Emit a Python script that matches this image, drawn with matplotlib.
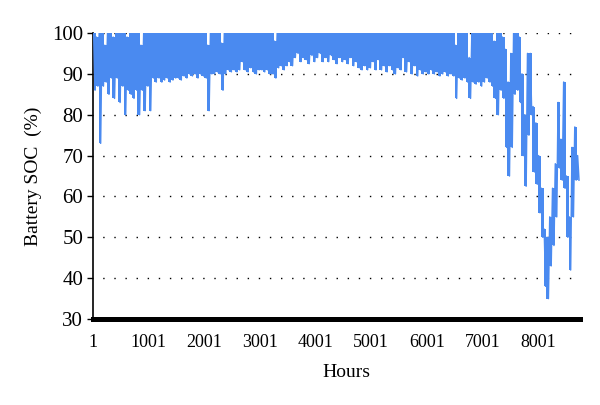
import numpy as np
import matplotlib
matplotlib.use('Agg')
import matplotlib.pyplot as plt

# serif look of the original
plt.rcParams['font.family'] = ['Liberation Serif', 'DejaVu Serif']

# hourly SOC as (lowest, highest) per 50-hour block
block_hours = 50
soc_low = [
    86, 87, 73, 87, 88, 85, 89, 84, 89, 83,
    87, 80, 86, 85, 84, 86, 80, 86, 81, 87,
    81, 89, 88, 89, 88, 88.5, 89, 88, 88.5, 89,
    89, 88.5, 89.5, 89, 90, 89.5, 90, 89, 90, 89.5,
    89, 81, 90, 90, 90.5, 90, 86, 90, 91, 90.5,
    91, 90.5, 91, 93, 91, 90.5, 91.5, 90.5, 90, 91,
    91, 90.5, 91, 90, 90, 89, 91.5, 92, 91, 92,
    93, 92, 94, 95, 93, 94, 93.5, 92.5, 94.5, 93,
    94, 95, 93, 94, 93, 94.5, 93.5, 92.5, 94, 93,
    93.5, 92.5, 94, 92, 93, 91.5, 91, 92, 91, 91.5,
    93, 91, 93.5, 91, 92, 90.5, 92, 91, 90, 91.5,
    91, 94, 90.5, 93, 90, 92, 89.5, 91, 90, 90.5,
    90, 91, 90, 90.5, 89.5, 90, 90.5, 89.5, 90, 89.5,
    84, 89, 88.5, 89, 88, 84, 88, 87.5, 88, 87,
    88, 89, 88, 87, 84, 80, 86, 84, 72, 65,
    72, 85, 86, 83, 70, 62.5, 75, 80, 66, 63,
    56, 50, 38, 35, 43, 48, 55, 67, 64, 62,
    50, 42, 55, 64, 64,
]
soc_high = [
    100, 99, 100, 100, 97, 100, 100, 99, 100, 100,
    100, 100, 99, 100, 100, 100, 100, 97, 100, 100,
    100, 100, 100, 100, 100, 100, 100, 100, 100, 100,
    100, 100, 100, 100, 100, 100, 100, 100, 100, 100,
    100, 97, 100, 100, 100, 100, 97.5, 100, 100, 100,
    100, 100, 100, 100, 100, 100, 100, 100, 100, 100,
    100, 100, 100, 100, 100, 98, 100, 100, 100, 100,
    100, 100, 100, 100, 100, 100, 100, 100, 100, 100,
    100, 100, 100, 100, 100, 100, 100, 100, 100, 100,
    100, 100, 100, 100, 100, 100, 100, 100, 100, 100,
    100, 100, 100, 100, 100, 100, 100, 100, 100, 100,
    100, 100, 100, 100, 100, 100, 100, 100, 100, 100,
    100, 100, 100, 100, 100, 100, 100, 100, 100, 100,
    97, 100, 100, 100, 100, 94, 100, 100, 100, 100,
    100, 100, 100, 100, 98, 100, 100, 99, 96, 88,
    95, 100, 100, 99, 90, 80, 95, 95, 82, 78,
    70, 62, 52, 50, 55, 62, 68, 83, 74, 88,
    65, 55, 72, 77, 70,
]
hour_ticks = [1, 1001, 2001, 3001, 4001, 5001, 6001, 7001, 8001]
soc_ticks = [30, 40, 50, 60, 70, 80, 90, 100]

blue = '#4a8af0'

# zigzag between block max and min, like the daily charge/discharge
start = 1 + block_hours * np.arange(len(soc_low))
hours = np.column_stack([start + 12, start + 37]).ravel()
soc = np.column_stack([soc_high, soc_low]).ravel()

fig = plt.figure(figsize=(6, 4.05), dpi=100)
ax = fig.add_axes([0.155, 0.2123, 0.812, 0.7062])

for y in soc_ticks[1:]:
    ax.axhline(y, color='black', lw=1.0, ls=(1, (1, 7)), zorder=0)

# dense hourly swings read as a solid band of each block's range
ax.fill_between(start + 25, soc_low, soc_high, step='mid',
                color=blue, lw=0, zorder=2)
ax.plot(hours, soc, color=blue, lw=1.1, zorder=3)

ax.set_xlim(1, 8760)
ax.set_ylim(30, 100)
ax.set_xticks(hour_ticks)
ax.set_yticks(soc_ticks)

ax.spines['top'].set_visible(False)
ax.spines['right'].set_visible(False)
ax.spines['left'].set_linewidth(1.2)
ax.spines['bottom'].set_linewidth(3.6)
ax.spines['bottom'].set_zorder(5)

ax.tick_params(axis='x', length=0, pad=11, labelsize=13)
ax.tick_params(axis='y', length=4, width=1, pad=3, labelsize=15)

ax.set_xlabel('Hours', fontsize=14, labelpad=9, x=0.52)
ax.set_ylabel('Battery SOC  (%)', fontsize=14, labelpad=7)

fig.savefig('out.png', dpi=100)
